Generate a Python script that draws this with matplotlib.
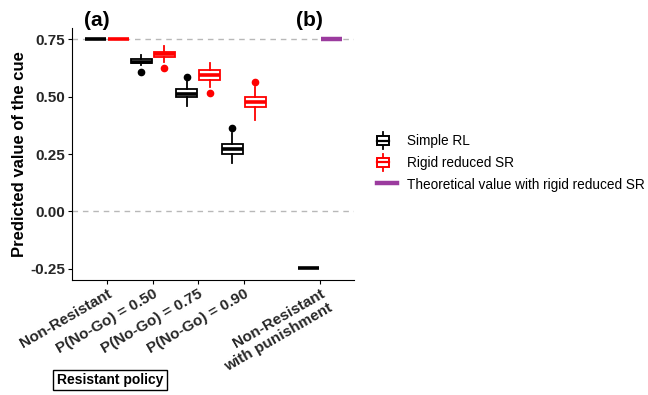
import numpy as np
import matplotlib
matplotlib.use('Agg')
import matplotlib.pyplot as plt
from matplotlib import font_manager
from matplotlib.legend_handler import HandlerBase
from matplotlib.lines import Line2D
from matplotlib.patches import Rectangle

# data
categories = ['Non-Resistant', 'P(No-Go) = 0.50', 'P(No-Go) = 0.75',
              'P(No-Go) = 0.90', 'Non-Resistant\nwith punishment']

# Simple RL: median, q1, q3, whisker low, whisker high, outliers
rl_med = [0.750, 0.652, 0.512, 0.270, -0.245]
rl_q1 = [0.750, 0.645, 0.500, 0.250, -0.245]
rl_q3 = [0.750, 0.662, 0.533, 0.292, -0.245]
rl_lo = [0.750, 0.636, 0.459, 0.210, -0.245]
rl_hi = [0.750, 0.680, 0.568, 0.343, -0.245]
rl_out = [[], [0.605], [0.583], [0.362], []]

# Rigid reduced SR (no box for the punishment condition)
sr_med = [0.750, 0.683, 0.595, 0.474]
sr_q1 = [0.750, 0.671, 0.573, 0.454]
sr_q3 = [0.750, 0.695, 0.615, 0.497]
sr_lo = [0.750, 0.648, 0.543, 0.398]
sr_hi = [0.750, 0.718, 0.646, 0.543]
sr_out = [[], [0.623], [0.517], [0.565]]

# theoretical value with rigid reduced SR (punishment condition only)
theory_val = 0.75

ref_lines = [0.75, 0.0]

plt.rcParams['font.family'] = ['Liberation Sans', 'DejaVu Sans']

fig = plt.figure(figsize=(6.48, 3.95), dpi=100)
ax = fig.add_axes([72 / 648, 1 - 280 / 395, (354 - 72) / 648, (280 - 28) / 395])

pos = np.array([1, 2, 3, 4, 5.67])
dodge = 0.25
bw = 0.46


def make_stats(med, q1, q3, lo, hi, out):
    return [dict(med=m, q1=a, q3=b, whislo=l, whishi=h, fliers=f)
            for m, a, b, l, h, f in zip(med, q1, q3, lo, hi, out)]


def draw(stats, positions, color):
    ax.bxp(stats, positions=positions, widths=bw, showcaps=False,
           patch_artist=True,
           boxprops=dict(facecolor='white', edgecolor=color, linewidth=1.3),
           medianprops=dict(color=color, linewidth=2.6),
           whiskerprops=dict(color=color, linewidth=1.3),
           flierprops=dict(marker='o', markerfacecolor=color, markeredgecolor=color,
                           markersize=4.5),
           manage_ticks=False, zorder=3)


for y in ref_lines:
    ax.axhline(y, color='#b8b8b8', lw=1, ls=(0, (4, 3.5)), zorder=1)

rl_stats = make_stats(rl_med, rl_q1, rl_q3, rl_lo, rl_hi, rl_out)
sr_stats = make_stats(sr_med, sr_q1, sr_q3, sr_lo, sr_hi, sr_out)
draw(rl_stats, pos - dodge, 'black')
draw(sr_stats, pos[:len(sr_stats)] + dodge, 'red')

purple = '#9b3b9e'
ax.hlines(theory_val, pos[-1] + dodge - bw / 2, pos[-1] + dodge + bw / 2,
          color=purple, lw=3.2, zorder=3)

ax.set_xlim(0.23, 6.42)
ax.set_ylim(-0.298, 0.798)
ax.set_xticks(pos)
ax.set_xticklabels(categories, rotation=30, ha='right', va='top',
                   rotation_mode='anchor', fontsize=11, fontweight='bold',
                   color='#262626')
ax.set_yticks([-0.25, 0.0, 0.25, 0.5, 0.75])
ax.set_yticklabels(['-0.25', '0.00', '0.25', '0.50', '0.75'], fontsize=11,
                   fontweight='bold', color='#262626')
ax.tick_params(length=3, width=0.8, pad=2)
ax.spines['top'].set_visible(False)
ax.spines['right'].set_visible(False)
ax.set_ylabel('Predicted value of the cue', fontsize=12, fontweight='bold')
ax.yaxis.set_label_coords(-0.16, 0.5)

fig.text(97 / 648, 1 - 20 / 395, '(a)', fontsize=15, fontweight='bold',
         ha='center', va='center')
fig.text(309 / 648, 1 - 20 / 395, '(b)', fontsize=15, fontweight='bold',
         ha='center', va='center')

# boxed note under the axis
names = {f.name for f in font_manager.fontManager.ttflist}
if 'Liberation Sans Narrow' in names:
    note_font, note_size = 'Liberation Sans Narrow', 12.5
else:
    note_font, note_size = 'Liberation Sans', 10
fig.text(110 / 648, 1 - 380 / 395, 'Resistant policy', family=note_font,
         fontsize=note_size, fontweight='bold', ha='center', va='center',
         bbox=dict(boxstyle='square,pad=0.25', fc='white', ec='black', lw=1))


class BoxHandler(HandlerBase):
    def create_artists(self, legend, orig_handle, xdescent, ydescent,
                       width, height, fontsize, trans):
        c = orig_handle.get_color()
        x0 = -xdescent
        w = width * 0.6
        yc = height / 2 - ydescent
        hb = height * 0.34
        wt = Line2D([x0 + w / 2] * 2, [yc + hb, yc + height * 0.66], color=c,
                    lw=1.3, transform=trans)
        wb = Line2D([x0 + w / 2] * 2, [yc - hb, yc - height * 0.66], color=c,
                    lw=1.3, transform=trans)
        rect = Rectangle((x0, yc - hb), w, 2 * hb, fc='white', ec=c, lw=1.4,
                         transform=trans)
        med = Line2D([x0, x0 + w], [yc, yc], color=c, lw=1.6, transform=trans)
        return [wt, wb, rect, med]


h_rl = Line2D([], [], color='black')
h_sr = Line2D([], [], color='red')
h_th = Line2D([], [], color=purple, lw=3.2)
fig.legend([h_rl, h_sr, h_th],
           ['Simple RL', 'Rigid reduced SR', 'Theoretical value with rigid reduced SR'],
           handler_map={h_rl: BoxHandler(), h_sr: BoxHandler()},
           loc='center left', bbox_to_anchor=(377 / 648, 1 - 163 / 395),
           frameon=False, fontsize=9.8, borderpad=0, borderaxespad=0,
           handlelength=1.45, handleheight=1.1, handletextpad=0.75,
           labelspacing=0.55)

fig.savefig('out.png', dpi=100)
